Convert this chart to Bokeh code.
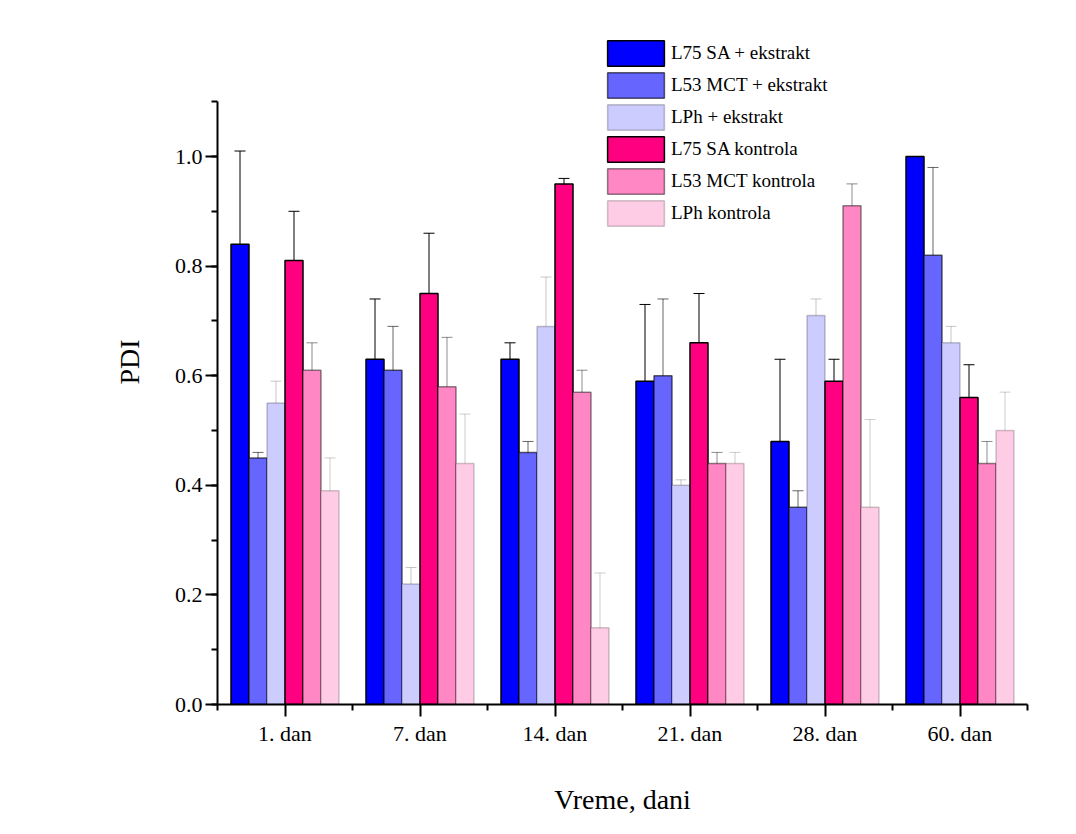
from bokeh.plotting import figure
from bokeh.models import (ColumnDataSource, Whisker, TeeHead, Legend, LegendItem,
                          FixedTicker, Range1d)
from bokeh.embed import file_html
from bokeh.resources import INLINE

# ---- data ----
categories = ["1. dan", "7. dan", "14. dan", "21. dan", "28. dan", "60. dan"]
series_names = ["L75 SA + ekstrakt", "L53 MCT + ekstrakt", "LPh + ekstrakt",
                "L75 SA kontrola", "L53 MCT kontrola", "LPh kontrola"]

l75_ek = [0.84, 0.63, 0.63, 0.59, 0.48, 1.00]
l75_ek_err = [0.17, 0.11, 0.03, 0.14, 0.15, 0.0]
l53_ek = [0.45, 0.61, 0.46, 0.60, 0.36, 0.82]
l53_ek_err = [0.01, 0.08, 0.02, 0.14, 0.03, 0.16]
lph_ek = [0.55, 0.22, 0.69, 0.40, 0.71, 0.66]
lph_ek_err = [0.04, 0.03, 0.09, 0.01, 0.03, 0.03]
l75_k = [0.81, 0.75, 0.95, 0.66, 0.59, 0.56]
l75_k_err = [0.09, 0.11, 0.01, 0.09, 0.04, 0.06]
l53_k = [0.61, 0.58, 0.57, 0.44, 0.91, 0.44]
l53_k_err = [0.05, 0.09, 0.04, 0.02, 0.04, 0.04]
lph_k = [0.39, 0.44, 0.14, 0.44, 0.36, 0.50]
lph_k_err = [0.06, 0.09, 0.10, 0.02, 0.16, 0.07]

y_ticks = [0.0, 0.2, 0.4, 0.6, 0.8, 1.0]
y_axis_max = 1.1

values = [l75_ek, l53_ek, lph_ek, l75_k, l53_k, lph_k]
errors = [l75_ek_err, l53_ek_err, lph_ek_err, l75_k_err, l53_k_err, lph_k_err]

# ---- styles ----
fills = ["#0000FF", "#6666FF", "#CCCCFF", "#FF0080", "#FF88C4", "#FFCCE5"]
alphas = [1.0, 0.6, 0.22, 1.0, 0.45, 0.2]
FONT = "Liberation Serif"

n_groups = len(categories)
n_series = len(values)
bar_w = 0.8 / n_series

p = figure(width=1060, height=826, output_backend="svg", toolbar_location=None,
           x_range=Range1d(0.5, n_groups + 0.5), y_range=Range1d(0, 1.25),
           min_border_left=217, min_border_right=33, min_border_top=19,
           min_border_bottom=122)
p.outline_line_color = None
p.xgrid.visible = False
p.ygrid.visible = False
p.background_fill_color = "white"
p.border_fill_color = "white"

items = []
for k in range(n_series):
    xs = [i + 1 + (k - (n_series - 1) / 2) * bar_w for i in range(n_groups)]
    vals = values[k]
    errs = errors[k]
    src = ColumnDataSource(dict(x=xs, top=vals,
                                upper=[v + e for v, e in zip(vals, errs)],
                                lower=[v - e for v, e in zip(vals, errs)]))
    r = p.vbar(x="x", top="top", width=bar_w, bottom=0, source=src,
               fill_color=fills[k], line_color="black", line_alpha=alphas[k],
               line_width=1.5)
    items.append(LegendItem(label=series_names[k], renderers=[r]))
    w = Whisker(base="x", upper="upper", lower="lower", source=src,
                dimension="height", line_color="black", line_alpha=alphas[k],
                line_width=1,
                upper_head=TeeHead(size=11, line_color="black", line_alpha=alphas[k], line_width=1),
                lower_head=TeeHead(size=11, line_color="black", line_alpha=alphas[k], line_width=1))
    p.add_layout(w)

legend = Legend(items=items, location=(383, 475), padding=0, margin=0,
                spacing=0, glyph_width=71, glyph_height=32, label_standoff=-4,
                border_line_alpha=0, background_fill_alpha=0,
                label_text_font=FONT, label_text_font_size="19px",
                label_text_color="black")
p.add_layout(legend)

# ---- axes ----
xa = p.xaxis[0]
xa.ticker = FixedTicker(ticks=list(range(1, n_groups + 1)),
                        minor_ticks=[i + 0.5 for i in range(n_groups + 1)])
xa.major_label_overrides = {i + 1: c for i, c in enumerate(categories)}
xa.axis_label = "Vreme, dani"
xa.major_tick_out = 12
xa.major_tick_in = 0
xa.minor_tick_out = 6
xa.minor_tick_in = 0
xa.major_label_standoff = 4
xa.axis_label_standoff = 35

ya = p.yaxis[0]
ya.bounds = (0, y_axis_max)
ya.ticker = FixedTicker(ticks=y_ticks,
                        minor_ticks=[round(0.1 * i, 1) for i in range(12)])
ya.major_label_overrides = {t: f"{t:.1f}" for t in y_ticks}
ya.axis_label = "PDI"
ya.major_tick_out = 12
ya.major_tick_in = 0
ya.minor_tick_out = 6
ya.minor_tick_in = 0
ya.major_label_standoff = 3
ya.axis_label_standoff = 27

for ax in (xa, ya):
    ax.axis_line_width = 2
    ax.major_tick_line_width = 2
    ax.minor_tick_line_width = 2
    ax.axis_line_color = "black"
    ax.major_tick_line_color = "black"
    ax.minor_tick_line_color = "black"
    ax.major_label_text_font = FONT
    ax.major_label_text_font_size = "22px"
    ax.major_label_text_color = "black"
    ax.axis_label_text_font = FONT
    ax.axis_label_text_font_size = "28px"
    ax.axis_label_text_font_style = "normal"
    ax.axis_label_text_color = "black"

open("out.html", "w").write(file_html(p, INLINE))
